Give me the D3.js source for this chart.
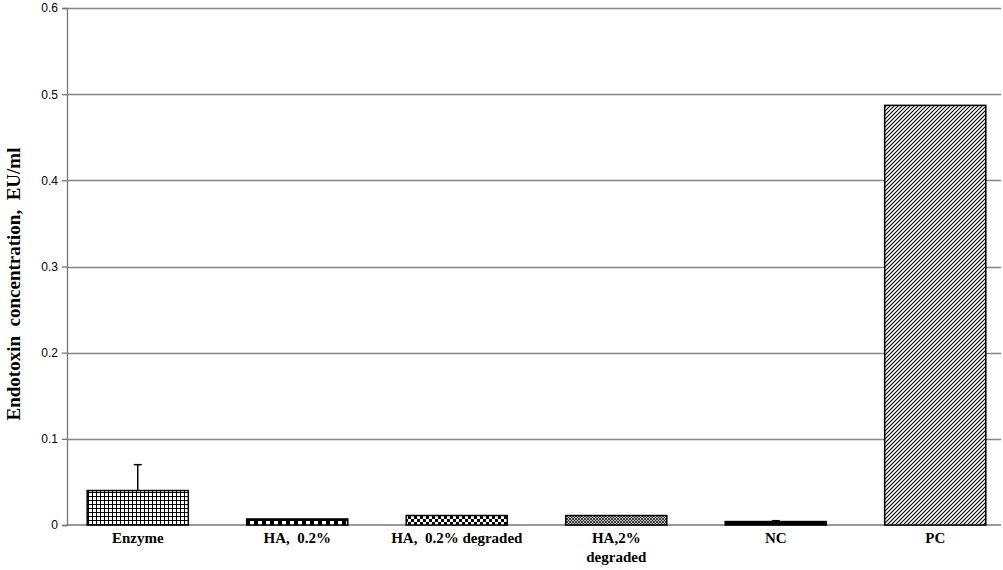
<!DOCTYPE html>
<html>
<head>
<meta charset="utf-8">
<script src="https://cdn.jsdelivr.net/npm/d3@7"></script>
<style>
  body { margin: 0; background: #fff; }
  .tick text { font-family: "Liberation Sans", Arial, sans-serif; font-size: 12px; fill: #000; }
  .cat { font-family: "Liberation Serif", "Times New Roman", serif; font-weight: bold; font-size: 15px; fill: #000; }
</style>
</head>
<body>
<svg id="chart" width="1003" height="570"></svg>
<script>
var categories = ['Enzyme', 'HA,  0.2%', 'HA,  0.2% degraded', 'HA,2%\ndegraded', 'NC', 'PC']
var values = [0.040, 0.007, 0.011, 0.011, 0.004, 0.487]
var errors = [0.030, 0, 0, 0, 0.001, 0]
var patterns = ['grid', 'dots', 'checker', 'hatch', 'solid', 'diag']
var yTicks = [0, 0.1, 0.2, 0.3, 0.4, 0.5, 0.6]

var svg = d3.select('#chart')
var plotLeft = 67, plotRight = 1001, plotTop = 8, plotBottom = 525

var y = d3.scaleLinear().domain([0, 0.6]).range([plotBottom, plotTop])
var x = d3.scaleBand().domain(categories).range([58, 1015]).paddingInner(0.366).paddingOuter(0.183)

// fill patterns
var defs = svg.append('defs')
var p = defs.append('pattern').attr('id', 'grid').attr('patternUnits', 'userSpaceOnUse').attr('width', 4).attr('height', 4)
p.append('rect').attr('width', 4).attr('height', 4).attr('fill', '#fff')
p.append('path').attr('d', 'M0,0.5H4M0.5,0V4').attr('stroke', '#000').attr('stroke-width', 1)

p = defs.append('pattern').attr('id', 'dots').attr('patternUnits', 'userSpaceOnUse').attr('width', 8).attr('height', 8)
p.append('rect').attr('width', 8).attr('height', 8).attr('fill', '#000')
p.append('rect').attr('x', 2).attr('y', 1).attr('width', 4).attr('height', 4).attr('fill', '#fff')

p = defs.append('pattern').attr('id', 'checker').attr('patternUnits', 'userSpaceOnUse').attr('width', 6).attr('height', 6)
p.append('rect').attr('width', 6).attr('height', 6).attr('fill', '#fff')
p.append('rect').attr('width', 3).attr('height', 3).attr('fill', '#000')
p.append('rect').attr('x', 3).attr('y', 3).attr('width', 3).attr('height', 3).attr('fill', '#000')

p = defs.append('pattern').attr('id', 'hatch').attr('patternUnits', 'userSpaceOnUse').attr('width', 3).attr('height', 3)
p.append('rect').attr('width', 3).attr('height', 3).attr('fill', '#bbb')
p.append('path').attr('d', 'M0,0L3,3M3,0L0,3').attr('stroke', '#222').attr('stroke-width', 0.8)

p = defs.append('pattern').attr('id', 'solid').attr('patternUnits', 'userSpaceOnUse').attr('width', 4).attr('height', 4)
p.append('rect').attr('width', 4).attr('height', 4).attr('fill', '#000')

p = defs.append('pattern').attr('id', 'diag').attr('patternUnits', 'userSpaceOnUse').attr('width', 4).attr('height', 4)
p.append('rect').attr('width', 4).attr('height', 4).attr('fill', '#fff')
p.append('path').attr('d', 'M-1,1L1,-1M0,4L4,0M3,5L5,3').attr('stroke', '#000').attr('stroke-width', 1.1)

// gridlines
svg.append('g').selectAll('line').data(yTicks.slice(1)).join('line')
  .attr('x1', plotLeft).attr('x2', plotRight)
  .attr('y1', d => Math.round(y(d)) + 0.5).attr('y2', d => Math.round(y(d)) + 0.5)
  .attr('stroke', '#858585').attr('stroke-width', 1.3)

// y axis
var yAxis = d3.axisLeft(y).tickValues(yTicks).tickFormat(d => d === 0 ? '0' : d3.format('.1f')(d)).tickSize(5).tickPadding(4)
var ga = svg.append('g').attr('transform', 'translate(' + plotLeft + ',0)').call(yAxis)
ga.select('.domain').attr('stroke', '#777').attr('stroke-width', 1.3)
ga.selectAll('.tick line').attr('stroke', '#777').attr('stroke-width', 1.3)

// baseline
svg.append('line').attr('x1', plotLeft).attr('x2', plotRight).attr('y1', y(0)).attr('y2', y(0))
  .attr('stroke', '#777').attr('stroke-width', 1.3)

// bars
svg.append('g').selectAll('rect').data(categories).join('rect')
  .attr('x', d => x(d))
  .attr('width', x.bandwidth())
  .attr('y', (d, i) => y(values[i]))
  .attr('height', (d, i) => y(0) - y(values[i]))
  .attr('fill', (d, i) => 'url(#' + patterns[i] + ')')
  .attr('stroke', '#000').attr('stroke-width', 1.5)

// error bars
var withErr = categories.map((d, i) => ({cat: d, v: values[i], e: errors[i]})).filter(d => d.e > 0)
var eb = svg.append('g').selectAll('g').data(withErr).join('g')
eb.append('line')
  .attr('x1', d => x(d.cat) + x.bandwidth() / 2).attr('x2', d => x(d.cat) + x.bandwidth() / 2)
  .attr('y1', d => y(d.v)).attr('y2', d => y(d.v + d.e))
  .attr('stroke', '#000').attr('stroke-width', 1.5)
eb.append('line')
  .attr('x1', d => x(d.cat) + x.bandwidth() / 2 - 4).attr('x2', d => x(d.cat) + x.bandwidth() / 2 + 4)
  .attr('y1', d => y(d.v + d.e)).attr('y2', d => y(d.v + d.e))
  .attr('stroke', '#000').attr('stroke-width', 1.5)

// category labels
var labels = svg.append('g').selectAll('text').data(categories).join('text')
  .attr('class', 'cat')
  .attr('text-anchor', 'middle')
  .attr('x', d => x(d) + x.bandwidth() / 2)
  .attr('y', 543)
labels.selectAll('tspan').data(d => d.split('\n')).join('tspan')
  .attr('x', function() { return d3.select(this.parentNode).attr('x') })
  .attr('dy', (d, i) => i === 0 ? 0 : 19)
  .style('white-space', 'pre')
  .text(d => d)

// y title
svg.append('text')
  .attr('class', 'cat')
  .attr('transform', 'translate(20,284) rotate(-90)')
  .attr('text-anchor', 'middle')
  .style('font-size', '19px')
  .style('white-space', 'pre')
  .text('Endotoxin  concentration,  EU/ml')
</script>
</body>
</html>
